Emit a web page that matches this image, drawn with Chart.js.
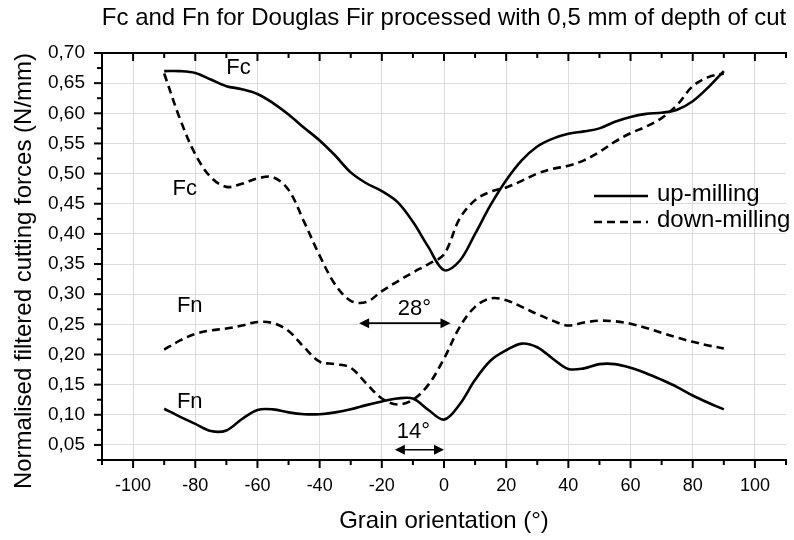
<!DOCTYPE html>
<html><head><meta charset="utf-8">
<script src="https://cdn.jsdelivr.net/npm/chart.js@4/dist/chart.umd.min.js"></script>
<style>html,body{margin:0;padding:0;background:#fff}#wrap{width:794px;height:540px}</style>
</head><body><div id="wrap"><canvas id="c" width="794" height="540"></canvas></div>
<script>
const chartTitle = 'Fc and Fn for Douglas Fir processed with 0,5 mm of depth of cut';
const xTitle = 'Grain orientation (°)';
const yTitle = 'Normalised filtered cutting forces (N/mm)';

const angles = [-90,-85,-80,-75,-70,-65,-60,-55,-50,-45,-40,-35,-30,-25,-20,-15,-10,-5,0,5,10,15,20,25,30,35,40,45,50,55,60,65,70,75,80,85,90];
const fcUp   = [0.670,0.670,0.667,0.656,0.645,0.640,0.632,0.617,0.598,0.576,0.555,0.530,0.502,0.484,0.471,0.453,0.420,0.378,0.340,0.355,0.400,0.448,0.489,0.522,0.545,0.558,0.566,0.570,0.575,0.586,0.594,0.599,0.601,0.606,0.620,0.643,0.670];
const fcDown = [0.666,0.592,0.532,0.494,0.478,0.483,0.492,0.494,0.473,0.420,0.364,0.316,0.289,0.287,0.305,0.321,0.336,0.350,0.366,0.425,0.456,0.470,0.477,0.488,0.500,0.508,0.513,0.522,0.536,0.553,0.567,0.578,0.592,0.614,0.645,0.660,0.666];
const fnUp   = [0.110,0.097,0.085,0.073,0.074,0.093,0.108,0.109,0.104,0.101,0.101,0.104,0.109,0.116,0.122,0.127,0.127,0.108,0.092,0.117,0.158,0.190,0.207,0.218,0.212,0.193,0.176,0.177,0.184,0.184,0.178,0.169,0.158,0.146,0.132,0.120,0.109];
const fnDown = [0.208,0.223,0.234,0.240,0.243,0.248,0.254,0.252,0.239,0.212,0.188,0.184,0.178,0.152,0.127,0.117,0.125,0.150,0.193,0.245,0.279,0.293,0.290,0.279,0.267,0.256,0.248,0.253,0.256,0.255,0.251,0.244,0.236,0.228,0.221,0.215,0.210];

const xTickValues = [-100,-80,-60,-40,-20,0,20,40,60,80,100];
const xTickLabels = ['-100','-80','-60','-40','-20','0','20','40','60','80','100'];
const yTickValues = [0.05,0.10,0.15,0.20,0.25,0.30,0.35,0.40,0.45,0.50,0.55,0.60,0.65,0.70];
const yTickLabels = ['0,05','0,10','0,15','0,20','0,25','0,30','0,35','0,40','0,45','0,50','0,55','0,60','0,65','0,70'];

const legendLabels = ['up-milling','down-milling'];
const curveLabels = [
  {text:'Fc', x:-70.0, y:0.675},
  {text:'Fc', x:-87.3, y:0.474},
  {text:'Fn', x:-85.9, y:0.280},
  {text:'Fn', x:-85.9, y:0.122}
];
const angleMarks = [
  {text:'28°', from:-27.3, to:2.1, y:0.252, tx:-14.9, ty:0.276},
  {text:'14°', from:-15.8, to:0.0, y:0.042, tx:-15.2, ty:0.071}
];

const FONT = '"Liberation Sans", Arial, sans-serif';
const DASH = [8,5];

function pts(arr){ return angles.map((a,i)=>({x:a,y:arr[i]})); }

const decor = {
  id:'decor',
  afterDraw(chart){
    const {ctx, chartArea:a, scales:{x,y}} = chart;
    ctx.save();
    ctx.strokeStyle = '#000'; ctx.fillStyle = '#000';
    ctx.lineWidth = 2;
    ctx.beginPath(); ctx.moveTo(a.left-1, a.top); ctx.lineTo(a.right+1, a.top); ctx.stroke();
    for (let v = x.min; v <= x.max + 1e-9; v += 10) {
      const px = x.getPixelForValue(v);
      const major = Math.abs(Math.round(v)) % 20 === 0;
      const len = major ? 8 : 5;
      ctx.beginPath(); ctx.moveTo(px, a.bottom); ctx.lineTo(px, a.bottom+len); ctx.stroke();
      ctx.beginPath(); ctx.moveTo(px, a.top); ctx.lineTo(px, a.top+len); ctx.stroke();
    }
    for (let k = 1; k <= 28; k++) {
      const v = k*0.025;
      if (v < y.min - 1e-9) continue;
      const py = y.getPixelForValue(v);
      const len = (k % 2 === 0) ? 8 : 5;
      ctx.beginPath(); ctx.moveTo(a.left, py); ctx.lineTo(a.left-len, py); ctx.stroke();
    }
    // title
    ctx.font = '24px ' + FONT;
    ctx.textAlign = 'center'; ctx.textBaseline = 'middle';
    ctx.fillText(chartTitle, (a.left+a.right)/2, 18);
    // y axis title
    ctx.save();
    ctx.translate(24, 271);
    ctx.rotate(-Math.PI/2);
    ctx.font = '24px ' + FONT;
    ctx.fillText(yTitle, 0, 0);
    ctx.restore();
    // legend
    ctx.font = '24px ' + FONT;
    ctx.textAlign = 'left';
    const ly = [196, 222];
    legendLabels.forEach((t,i)=>{
      ctx.save();
      ctx.lineWidth = 2.6;
      ctx.setLineDash(i===1 ? DASH : []);
      ctx.beginPath(); ctx.moveTo(594, ly[i]); ctx.lineTo(648, ly[i]); ctx.stroke();
      ctx.restore();
      ctx.fillText(t, 657, ly[i]-1.5);
    });
    // curve labels
    ctx.font = '22px ' + FONT;
    curveLabels.forEach(c=>{
      ctx.fillText(c.text, x.getPixelForValue(c.x), y.getPixelForValue(c.y));
    });
    // angle arrows
    angleMarks.forEach(m=>{
      const x1 = x.getPixelForValue(m.from), x2 = x.getPixelForValue(m.to), py = y.getPixelForValue(m.y);
      ctx.lineWidth = 1.6;
      ctx.beginPath(); ctx.moveTo(x1+8, py); ctx.lineTo(x2-8, py); ctx.stroke();
      ctx.beginPath(); ctx.moveTo(x1, py); ctx.lineTo(x1+10, py-5); ctx.lineTo(x1+10, py+5); ctx.closePath(); ctx.fill();
      ctx.beginPath(); ctx.moveTo(x2, py); ctx.lineTo(x2-10, py-5); ctx.lineTo(x2-10, py+5); ctx.closePath(); ctx.fill();
      ctx.fillText(m.text, x.getPixelForValue(m.tx), y.getPixelForValue(m.ty));
    });
    ctx.restore();
  }
};

const lineDs = (label, arr, dash) => ({
  label, data: pts(arr), borderColor:'#000', backgroundColor:'#000', borderWidth:2.6,
  borderDash: dash, pointRadius:0, fill:false, tension:0.35
});

new Chart(document.getElementById('c'), {
  type:'line',
  data:{ datasets:[
    lineDs(legendLabels[0]+' Fc', fcUp, []),
    lineDs(legendLabels[1]+' Fc', fcDown, DASH),
    lineDs(legendLabels[0]+' Fn', fnUp, []),
    lineDs(legendLabels[1]+' Fn', fnDown, DASH)
  ]},
  options:{
    responsive:false, devicePixelRatio:1, animation:false,
    layout:{ padding:{ left:0, right:8, top:53, bottom:0 } },
    plugins:{ legend:{display:false}, title:{display:false}, tooltip:{enabled:false} },
    scales:{
      x:{
        type:'linear', position:'bottom', min:-110, max:110,
        afterBuildTicks: s => { s.ticks = xTickValues.map(v=>({value:v})); },
        afterFit: s => { s.height = 80; },
        ticks:{ padding:15, color:'#000', font:{family:FONT, size:18},
          callback:(v,i)=> xTickLabels[i] },
        grid:{ color:'#dcdcdc', lineWidth:1, drawTicks:false },
        border:{ color:'#000', width:2 },
        title:{ display:true, text:xTitle, color:'#000', font:{family:FONT, size:24}, padding:{top:0,bottom:4} }
      },
      y:{
        type:'linear', position:'left', min:0.025, max:0.70,
        afterBuildTicks: s => { s.ticks = yTickValues.map(v=>({value:v})); },
        afterFit: s => { s.width = 102; },
        ticks:{ padding:17, color:'#000', font:{family:FONT, size:19},
          callback:(v,i)=> yTickLabels[i] },
        grid:{ color:'#dcdcdc', lineWidth:1, drawTicks:false },
        border:{ color:'#000', width:2 },
        title:{ display:false }
      }
    }
  },
  plugins:[decor]
});
</script></body></html>
